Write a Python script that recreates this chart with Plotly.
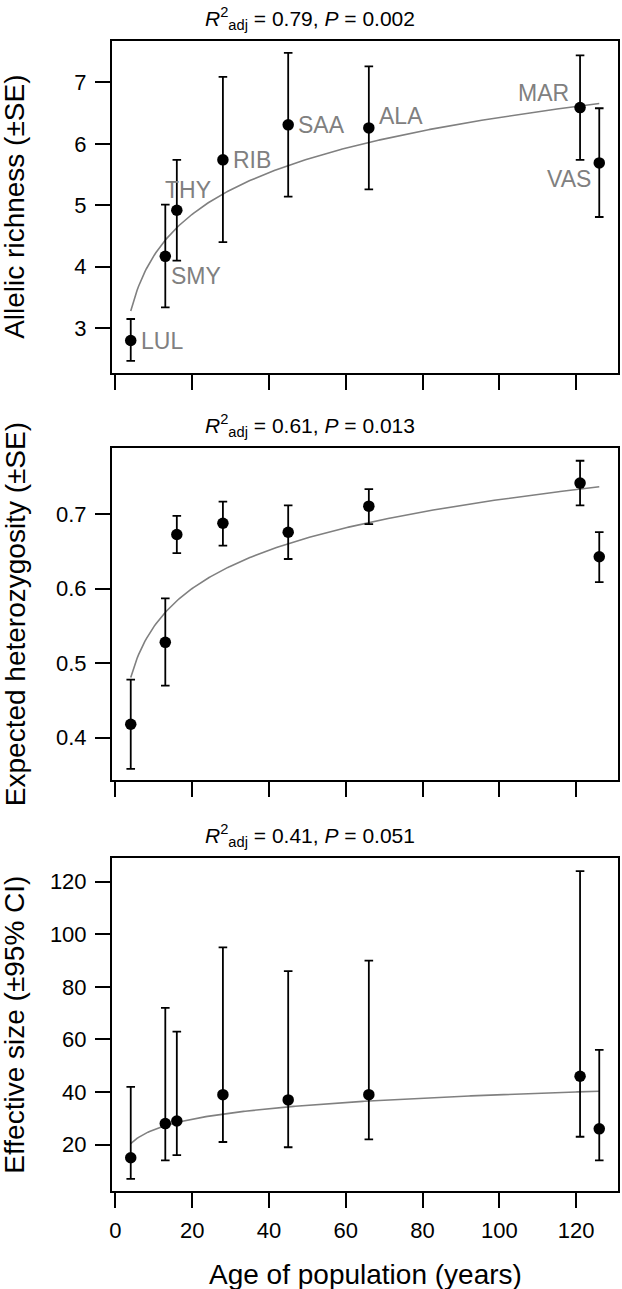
import numpy as np
import plotly.graph_objects as go

# ---------------- data ----------------
populations = ["LUL", "SMY", "THY", "RIB", "SAA", "ALA", "MAR", "VAS"]
age_years = [4, 13, 16, 28, 45, 66, 121, 126]

allelic_richness = [2.80, 4.17, 4.92, 5.74, 6.31, 6.26, 6.59, 5.69]
allelic_richness_upper = [3.15, 5.01, 5.74, 7.09, 7.48, 7.26, 7.44, 6.58]
allelic_richness_lower = [2.47, 3.34, 4.10, 4.40, 5.14, 5.26, 5.74, 4.81]

heterozygosity = [0.418, 0.528, 0.673, 0.688, 0.676, 0.711, 0.742, 0.643]
heterozygosity_upper = [0.478, 0.587, 0.698, 0.717, 0.712, 0.734, 0.772, 0.676]
heterozygosity_lower = [0.358, 0.470, 0.648, 0.658, 0.640, 0.687, 0.712, 0.609]

effective_size = [15, 28, 29, 39, 37, 39, 46, 26]
effective_size_upper = [42, 72, 63, 95, 86, 90, 124, 56]
effective_size_lower = [7, 14, 16, 21, 19, 22, 23, 14]

panel_titles = [
    "<i>R</i><sup>2</sup><sub>adj</sub> = 0.79, <i>P</i> = 0.002",
    "<i>R</i><sup>2</sup><sub>adj</sub> = 0.61, <i>P</i> = 0.013",
    "<i>R</i><sup>2</sup><sub>adj</sub> = 0.41, <i>P</i> = 0.051",
]
y_titles = [
    "Allelic richness (±SE)",
    "Expected heterozygosity (±SE)",
    "Effective size (±95% CI)",
]
x_title = "Age of population (years)"
x_ticks = [0, 20, 40, 60, 80, 100, 120]
y_ticks = [
    [3, 4, 5, 6, 7],
    [0.4, 0.5, 0.6, 0.7],
    [20, 40, 60, 80, 100, 120],
]

# ---------------- style / layout ----------------
FONT = "Liberation Sans, Arial, Helvetica, sans-serif"
W, H = 622, 1289
ML, MR, MT, MB = 112, 2, 41, 98
domains = [[0.7116, 1.0], [0.3574, 0.6458], [0.0, 0.2893]]
y_ranges = [[2.277, 7.674], [0.3431, 0.7887], [2.36, 128.9]]
x_range = [-0.88, 130.88]

# label offsets (px) relative to the point: (xanchor, xshift, yshift)
label_offsets = {
    "LUL": ("left", 8, 0),
    "SMY": ("left", 4, -20),
    "THY": ("center", 11, 20),
    "RIB": ("left", 8, 0),
    "SAA": ("left", 8, 0),
    "ALA": ("left", 8, 12),
    "MAR": ("right", -9, 15),
    "VAS": ("right", -6, -16),
}

series = [
    (allelic_richness, allelic_richness_upper, allelic_richness_lower),
    (heterozygosity, heterozygosity_upper, heterozygosity_lower),
    (effective_size, effective_size_upper, effective_size_lower),
]

fig = go.Figure()
x_arr = np.array(age_years, dtype=float)
x_fit = np.linspace(min(age_years), max(age_years), 300)

for i, (mean, upper, lower) in enumerate(series):
    n = i + 1
    xa = "x" if n == 1 else f"x{n}"
    ya = "y" if n == 1 else f"y{n}"
    m = np.array(mean, dtype=float)
    # logarithmic regression fitted to the plotted means
    b, a = np.polyfit(np.log(x_arr), m, 1)
    fig.add_trace(go.Scatter(
        x=x_fit, y=a + b * np.log(x_fit), mode="lines",
        line=dict(color="#808080", width=1.6),
        xaxis=xa, yaxis=ya, showlegend=False, hoverinfo="skip"))
    fig.add_trace(go.Scatter(
        x=age_years, y=mean, mode="markers",
        marker=dict(color="black", size=11.5),
        error_y=dict(type="data", symmetric=False,
                     array=(np.array(upper) - m).tolist(),
                     arrayminus=(m - np.array(lower)).tolist(),
                     color="black", thickness=1.8, width=4.3),
        xaxis=xa, yaxis=ya, showlegend=False))

layout = dict(
    width=W, height=H,
    margin=dict(l=ML, r=MR, t=MT, b=MB),
    paper_bgcolor="white", plot_bgcolor="white",
    font=dict(family=FONT, color="black", size=22),
    showlegend=False,
)
annotations = []
for i in range(3):
    n = i + 1
    xk = "xaxis" if n == 1 else f"xaxis{n}"
    yk = "yaxis" if n == 1 else f"yaxis{n}"
    ya = "y" if n == 1 else f"y{n}"
    xa = "x" if n == 1 else f"x{n}"
    layout[xk] = dict(
        domain=[0, 1], anchor=ya, range=x_range,
        tickmode="array", tickvals=x_ticks,
        showticklabels=(n == 3),
        ticks="outside", ticklen=15, tickwidth=2, tickcolor="black",
        showline=True, linecolor="black", linewidth=2, mirror=True,
        showgrid=False, zeroline=False,
        tickfont=dict(size=22, family=FONT),
        ticklabelstandoff=4,
    )
    layout[yk] = dict(
        domain=domains[i], anchor=xa, range=y_ranges[i],
        tickmode="array", tickvals=y_ticks[i],
        ticks="outside", ticklen=15, tickwidth=2, tickcolor="black",
        showline=True, linecolor="black", linewidth=2, mirror=True,
        showgrid=False, zeroline=False,
        tickfont=dict(size=22, family=FONT),
        ticklabelstandoff=4,
    )
    # panel title
    annotations.append(dict(
        text=panel_titles[i], xref="paper", yref=f"{ya} domain",
        x=0.5, y=1, xanchor="center", yanchor="bottom",
        xshift=-55, yshift=6, showarrow=False,
        font=dict(size=21, family=FONT, color="black")))
    # y axis title
    annotations.append(dict(
        text=y_titles[i], xref="paper", yref=f"{ya} domain",
        x=0, y=0.5, xanchor="center", yanchor="middle",
        xshift=-(ML - 15), textangle=-90, showarrow=False,
        font=dict(size=28, family=FONT, color="black")))

# point labels on the first panel
for name, xv, yv in zip(populations, age_years, allelic_richness):
    anchor, dx, dy = label_offsets[name]
    annotations.append(dict(
        text=name, x=xv, y=yv, xref="x", yref="y",
        xanchor=anchor, yanchor="middle", xshift=dx, yshift=dy,
        showarrow=False, font=dict(size=23, family=FONT, color="#808080")))

# x axis title
annotations.append(dict(
    text=x_title, xref="paper", yref="paper", x=0.5, y=0,
    xanchor="center", yanchor="middle", yshift=-83, showarrow=False,
    font=dict(size=28, family=FONT, color="black")))

layout["annotations"] = annotations
fig.update_layout(**layout)
fig.write_html("out.html",
               config={"displayModeBar": False},
               post_script="document.body.style.margin='0';")
